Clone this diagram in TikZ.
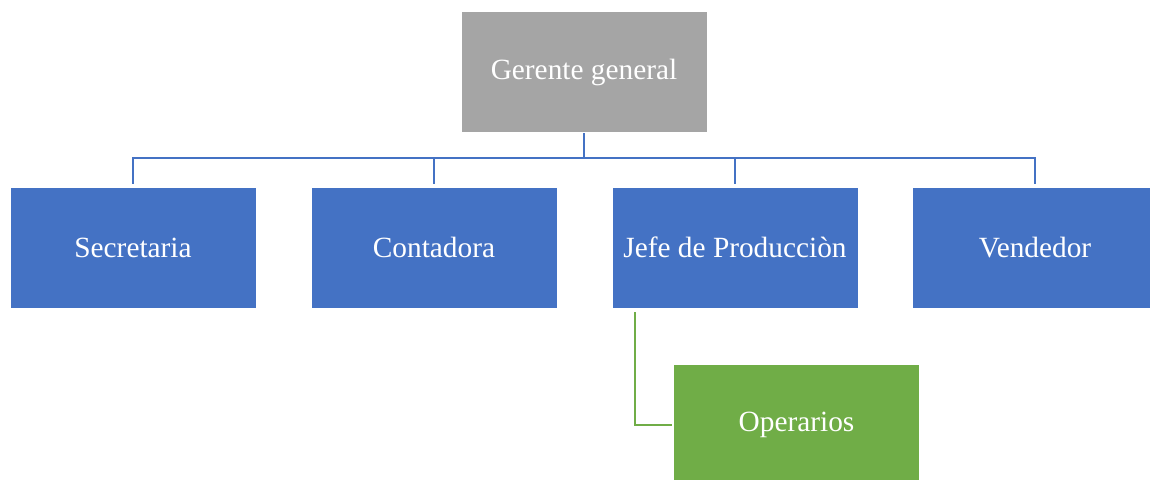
\documentclass[tikz,border=0pt]{standalone}
\usepackage{fontspec}
\setmainfont{Liberation Serif}
\usepackage{tikz}
\usetikzlibrary{positioning}
\usepackage{xcolor}
\definecolor{boss}{HTML}{A5A5A5}
\definecolor{staff}{HTML}{4472C4}
\definecolor{crew}{HTML}{70AD47}

\begin{document}
\begin{tikzpicture}[x=0.75pt,y=-0.75pt,
    box/.style={draw=white,line width=0.4pt,inner sep=0pt,outer sep=0pt,
      minimum width=184.5pt,minimum height=90.75pt,text=white,
      font=\fontsize{22}{26}\selectfont},
    link/.style={staff,line width=1.6pt},
    sublink/.style={crew,line width=1.6pt}]
  \path[use as bounding box,clip] (0,0) rectangle (1150,479);
  \node[box,fill=boss,text depth=4pt] (gerente) at (584,71.5) {Gerente general};
  \foreach \n/\x/\t in {secre/133/Secretaria,conta/434/Contadora,jefe/735/Jefe de Producciòn,vende/1035/Vendedor}{
    \node[box,fill=staff] (\n) at (\x,247.5) {\t};
  }
  \node[box,fill=crew] (opera) at (796.5,425) {Operarios};
  % lines
  \coordinate (bus) at (584,158);
  \draw[link,shorten <=1pt] (gerente.south) -- (bus);
  \foreach \n in {secre,conta,jefe,vende}
    \draw[link,shorten >=2pt] (bus) -| (\n.north);
  \coordinate (jtap) at ([xshift=17.25pt]jefe.south west);
  \draw[sublink,shorten <=3pt,shorten >=1pt] (jtap) |- (opera.west);
\end{tikzpicture}
\end{document}
